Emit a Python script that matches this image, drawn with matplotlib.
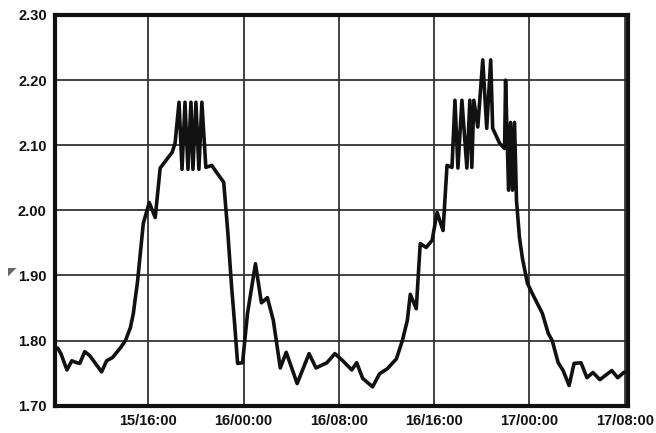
import matplotlib
matplotlib.use("Agg")
import matplotlib.pyplot as plt

# readings: timestamp as "day/HH:MM", value
times = [
    "15/08:15", "15/08:25", "15/08:40", "15/09:10", "15/09:35", "15/10:00", "15/10:15",
    "15/10:40", "15/11:05", "15/12:05", "15/12:30", "15/13:00", "15/13:40", "15/14:05",
    "15/14:30", "15/14:45", "15/14:55", "15/15:05", "15/15:35", "15/16:05", "15/16:35",
    "15/17:00", "15/18:00", "15/18:15", "15/18:35", "15/18:50", "15/19:05", "15/19:20",
    "15/19:35", "15/19:45", "15/20:00", "15/20:15", "15/20:30", "15/20:50", "15/21:20",
    "15/21:45", "15/22:20", "15/22:40", "15/23:00", "15/23:15", "15/23:30", "15/23:55",
    "16/00:20", "16/01:00", "16/01:30", "16/02:00", "16/02:30", "16/03:05", "16/03:35",
    "16/04:30", "16/05:00", "16/05:30", "16/06:05", "16/07:00", "16/07:40", "16/08:20",
    "16/09:05", "16/09:30", "16/10:00", "16/10:50", "16/11:25", "16/12:05", "16/12:50",
    "16/13:20", "16/13:45", "16/14:00", "16/14:30", "16/14:50", "16/15:20", "16/15:50",
    "16/16:15", "16/16:45", "16/17:05", "16/17:30", "16/17:45", "16/18:00", "16/18:20",
    "16/18:45", "16/19:00", "16/19:10", "16/19:20", "16/19:40", "16/20:05", "16/20:25",
    "16/20:45", "16/20:55", "16/21:30", "16/21:55", "16/22:00", "16/22:15", "16/22:25",
    "16/22:35", "16/22:45", "16/22:55", "16/23:10", "16/23:25", "16/23:50", "17/00:15",
    "17/01:05", "17/01:35", "17/01:55", "17/02:25", "17/02:50", "17/03:20", "17/03:45",
    "17/04:20", "17/04:50", "17/05:20", "17/05:55", "17/06:55", "17/07:25", "17/07:55",
    "17/08:15",
]
values = [
    1.789, 1.788, 1.780, 1.755, 1.769, 1.766, 1.765,
    1.783, 1.777, 1.752, 1.769, 1.774, 1.789, 1.800,
    1.820, 1.842, 1.866, 1.888, 1.980, 2.012, 1.989,
    2.065, 2.089, 2.103, 2.166, 2.063, 2.166, 2.063,
    2.166, 2.063, 2.166, 2.063, 2.166, 2.066, 2.069,
    2.058, 2.043, 1.969, 1.882, 1.826, 1.765, 1.766,
    1.842, 1.918, 1.858, 1.866, 1.831, 1.758, 1.782,
    1.734, 1.757, 1.780, 1.758, 1.766, 1.780, 1.769,
    1.755, 1.766, 1.742, 1.729, 1.749, 1.757, 1.772,
    1.800, 1.831, 1.871, 1.849, 1.949, 1.943, 1.954,
    1.997, 1.969, 2.069, 2.066, 2.169, 2.065, 2.169,
    2.065, 2.169, 2.066, 2.169, 2.128, 2.231, 2.126,
    2.231, 2.126, 2.103, 2.095, 2.200, 2.031, 2.135,
    2.031, 2.135, 2.015, 1.958, 1.926, 1.888, 1.872,
    1.842, 1.811, 1.800, 1.766, 1.754, 1.731, 1.765,
    1.766, 1.743, 1.751, 1.740, 1.754, 1.743, 1.751,
    1.752,
]
x_ticks = ["15/16:00", "16/00:00", "16/08:00", "16/16:00", "17/00:00", "17/08:00"]
y_ticks = [1.70, 1.80, 1.90, 2.00, 2.10, 2.20, 2.30]


def to_hours(stamp):
    day, hm = stamp.split("/")
    h, m = hm.split(":")
    return (int(day) - 15) * 24 + int(h) + int(m) / 60


hours = [to_hours(t) for t in times]
tick_hours = [to_hours(t) for t in x_ticks]

plt.rcParams['font.family'] = ['Liberation Sans', 'DejaVu Sans']

fig = plt.figure(figsize=(6.56, 4.33), dpi=100)
ax = fig.add_axes([0.0838, 0.063, 0.873, 0.9024])

ax.plot(hours, values, color='#111111', lw=2.6, solid_joinstyle='round', zorder=3)

ax.set_xlim(to_hours("15/08:10"), to_hours("17/08:15"))
ax.set_ylim(1.70, 2.30)
ax.set_xticks(tick_hours)
ax.set_xticklabels(x_ticks)
ax.set_yticks(y_ticks)
ax.set_yticklabels([f"{v:.2f}" for v in y_ticks])
ax.tick_params(length=0, labelsize=10.5, pad=6)
for lab in ax.get_xticklabels() + ax.get_yticklabels():
    lab.set_fontweight('bold')
    lab.set_color('#111111')

ax.grid(True, color='#333333', lw=1.3, zorder=1)
for s in ax.spines.values():
    s.set_linewidth(3)
    s.set_color('#111111')

# small grey marker left of the 1.90 label
fig.text(0.012, 0.365, "\u25E4", color='#666666', fontsize=8, family='DejaVu Sans')

fig.savefig("out.png", dpi=100)
